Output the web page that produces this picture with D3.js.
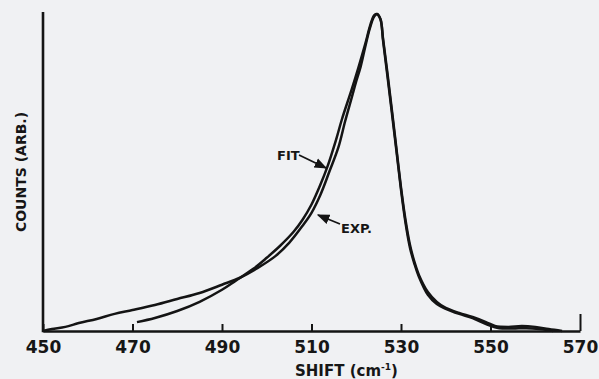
<!DOCTYPE html>
<html>
<head>
<meta charset="utf-8">
<script src="https://cdn.jsdelivr.net/npm/d3@7"></script>
<style>
  body { margin: 0; background: #f0f1f3; }
  svg { display: block; }
  text { font-family: "DejaVu Sans", sans-serif; font-weight: bold; fill: #161616; }
</style>
</head>
<body>
<svg id="chart" width="599" height="379"></svg>
<script>
var svgWidth = 599;
var svgHeight = 379;

// x ticks (shift, cm-1)
var xTicks = [450, 470, 490, 510, 530, 550, 570];

// experimental spectrum: shift, counts (arb.)
var expShift = [450, 452, 455, 458, 462, 466, 470, 475, 480, 485, 490, 494, 498, 502, 505, 508, 510, 512, 514, 516, 517.5, 519, 520, 521, 522, 523, 524, 524.7, 525.4, 526, 527, 528, 529, 530, 531, 532, 533, 534, 536, 538, 540, 543, 546, 549, 551, 554, 557, 560, 563, 566];
var expCounts = [0, 0.6, 1.3, 2.5, 3.8, 5.4, 6.6, 8.2, 10.1, 12.0, 14.6, 16.8, 19.9, 23.7, 27.8, 33.2, 37.3, 43.0, 50.3, 57.9, 66.1, 73.7, 78.8, 83.5, 89.6, 95.3, 99.2, 100, 98.4, 92.1, 81.0, 69.3, 57.3, 45.3, 35.1, 27.2, 21.8, 17.7, 12.3, 9.2, 7.3, 5.7, 4.4, 2.8, 1.6, 1.3, 1.6, 1.3, 0.6, 0];

// fitted curve
var fitShift = [471, 475, 480, 485, 490, 493, 497, 500, 503, 506, 508, 510, 512, 513.5, 515.5, 516.8, 519, 520.5, 522, 523.2, 524, 524.5, 525.4, 526, 527, 528, 529, 530, 531, 532, 533, 534, 536, 538, 540, 543, 546, 549, 552, 555, 558, 561, 564];
var fitCounts = [2.8, 4.1, 6.3, 9.2, 13.0, 15.8, 19.6, 23.1, 26.9, 31.3, 35.1, 39.9, 46.2, 51.6, 60.4, 66.8, 76.3, 83.2, 90.5, 96.8, 99.6, 100, 98.4, 91.5, 80.1, 68.4, 56.6, 44.6, 34.2, 26.3, 21.2, 17.1, 11.4, 8.5, 7.0, 5.4, 4.1, 2.2, 0.9, 0.8, 0.9, 0.6, 0];

var svg = d3.select("#chart");

var x = d3.scaleLinear().domain([450, 570]).range([43, 580]);
var y = d3.scaleLinear().domain([0, 100]).range([331, 14]);

var ink = "#141414";

// x axis, ticks pointing inward
var xAxis = svg.append("g")
  .attr("transform", "translate(0," + y(0) + ")")
  .call(d3.axisBottom(x).tickValues(xTicks).tickSizeInner(-7).tickSizeOuter(0));
xAxis.select(".domain").attr("stroke", ink).attr("stroke-width", 2.6);
xAxis.selectAll(".tick line").attr("stroke", ink).attr("stroke-width", 2);
xAxis.selectAll(".tick").filter(function(d){ return d === 570; })
  .select("line").attr("y2", -17);
xAxis.selectAll(".tick text")
  .attr("y", 22).attr("dy", 0)
  .style("font-size", "17px")
  .style("font-family", "'DejaVu Sans', sans-serif")
  .style("font-weight", "bold")
  .attr("fill", "#161616");

// y axis, plain line
svg.append("line")
  .attr("x1", x(450)).attr("x2", x(450))
  .attr("y1", 12).attr("y2", y(0) + 1.3)
  .attr("stroke", ink).attr("stroke-width", 2.6);

// axis titles
svg.append("text")
  .attr("x", 295).attr("y", 376)
  .style("font-size", "15px")
  .html('SHIFT (cm<tspan dy="-6" style="font-size:9px">-1</tspan><tspan dy="6">)</tspan>');

svg.append("text")
  .attr("transform", "translate(26,172) rotate(-90)")
  .attr("text-anchor", "middle")
  .style("font-size", "14px")
  .text("COUNTS (ARB.)");

// curves
var line = d3.line()
  .x(function(d){ return x(d[0]); })
  .y(function(d){ return y(d[1]); })
  .curve(d3.curveCatmullRom);

var expData = expShift.map(function(s, i){ return [s, expCounts[i]]; });
var fitData = fitShift.map(function(s, i){ return [s, fitCounts[i]]; });

svg.append("path")
  .datum(expData)
  .attr("d", line)
  .attr("fill", "none")
  .attr("stroke", ink)
  .attr("stroke-width", 2.5)
  .attr("stroke-linejoin", "round");

svg.append("path")
  .datum(fitData)
  .attr("d", line)
  .attr("fill", "none")
  .attr("stroke", ink)
  .attr("stroke-width", 2.5)
  .attr("stroke-linejoin", "round");

// arrow labels
svg.append("defs").append("marker")
  .attr("id", "head")
  .attr("viewBox", "0 0 10 10")
  .attr("refX", 9).attr("refY", 5)
  .attr("markerWidth", 7).attr("markerHeight", 7)
  .attr("orient", "auto")
  .append("path")
  .attr("d", "M0,1 L10,5 L0,9 Z")
  .attr("fill", ink);

svg.append("text")
  .attr("x", 277).attr("y", 160)
  .style("font-size", "13px")
  .text("FIT");
svg.append("line")
  .attr("x1", 299).attr("y1", 155)
  .attr("x2", 326).attr("y2", 168)
  .attr("stroke", ink).attr("stroke-width", 1.8)
  .attr("marker-end", "url(#head)");

svg.append("text")
  .attr("x", 341).attr("y", 233)
  .style("font-size", "13px")
  .text("EXP.");
svg.append("line")
  .attr("x1", 340).attr("y1", 224)
  .attr("x2", 318).attr("y2", 215)
  .attr("stroke", ink).attr("stroke-width", 1.8)
  .attr("marker-end", "url(#head)");
</script>
</body>
</html>
